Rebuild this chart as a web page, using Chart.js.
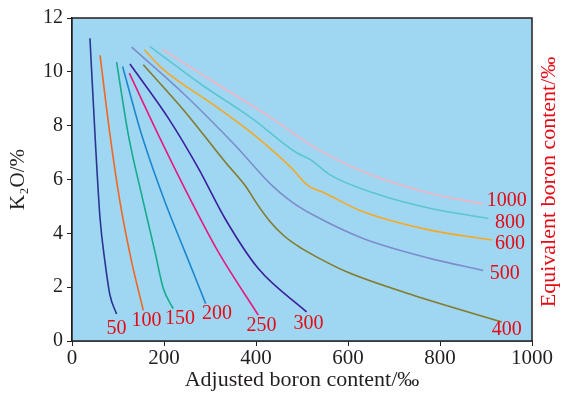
<!DOCTYPE html>
<html>
<head>
<meta charset="utf-8">
<style>
  html, body { margin: 0; padding: 0; background: #fff; }
  #wrap { width: 561px; height: 393px; }
</style>
</head>
<body>
<div id="wrap"><canvas id="chart"></canvas></div>
<script src="https://cdn.jsdelivr.net/npm/chart.js"></script>
<script>
// curves of equal equivalent boron content, [adjusted boron ‰, K2O %]
const line50 = [[39, 11.25], [50, 7.66], [61, 4.55], [71.7, 2.94], [82.6, 1.7], [97, 1.0]];
const line100 = [[61, 10.61], [82.6, 7.66], [104.3, 5.17], [129.7, 2.94], [155, 1.14]];
const line150 = [[97, 10.36], [122.5, 7.66], [155, 5.17], [180.4, 3.31], [198.5, 1.95], [220, 1.2]];
const line200 = [[110, 10.2], [151.4, 7.66], [202, 5.17], [245.6, 3.31], [290.6, 1.39]];
const line250 = [[124.6, 9.95], [187.7, 7.66], [260, 5.17], [318, 3.31], [405, 0.96]];
const line300 = [[126, 10.29], [209.4, 8.28], [274.6, 6.42], [332.6, 4.55], [405, 2.69], [510, 1.08]];
const line400 = [[155, 10.26], [245.6, 8.52], [332.6, 6.66], [378, 5.74], [400, 5.15], [430, 4.45], [460, 3.92], [499, 3.44], [524.6, 3.19], [597, 2.57], [742, 1.7], [934, 0.71]];
const line500 = [[129.7, 10.92], [245.6, 9.14], [354, 7.28], [434, 5.79], [477.6, 5.17], [524.6, 4.68], [633, 3.81], [778, 3.07], [894, 2.62]];
const line600 = [[157, 10.82], [195, 10.14], [318, 8.65], [405, 7.53], [477.6, 6.42], [512, 5.79], [550, 5.49], [633, 4.8], [778, 4.12], [914, 3.75]];
const line800 = [[169.6, 10.94], [282, 9.52], [390.6, 8.28], [484.8, 7.03], [520, 6.72], [561, 6.17], [669.6, 5.42], [778, 4.93], [905, 4.55]];
const line1000 = [[196, 10.84], [318, 9.52], [434, 8.28], [524.6, 7.22], [633, 6.29], [778, 5.49], [894, 5.09]];

const curveNames = ['50', '100', '150', '200', '250', '300', '400', '500', '600', '800', '1000'];
const curves = [line50, line100, line150, line200, line250, line300, line400, line500, line600, line800, line1000];
const xTicks = [0, 200, 400, 600, 800, 1000];
const yTicks = [0, 2, 4, 6, 8, 10, 12];

const colors = ['#2b3590', '#f26522', '#16ab8c', '#1b87cf', '#e5197f', '#3a1f9c',
                '#85792c', '#7d8ccc', '#f7a823', '#5cc6cf', '#f1b3c1'];
// where each curve label sits (data units)
const labelPos = [[97, 0.47], [162, 0.77], [235, 0.83], [315, 1.02], [412, 0.58], [514, 0.65],
                  [945, 0.4], [941, 2.51], [952, 3.6], [952, 4.39], [945, 5.21]];

const ink = '#231f20';
const red = '#e50914';
const serif = "'Liberation Serif', 'Times New Roman', serif";

const decor = {
  id: 'decor',
  beforeDatasetsDraw(chart) {
    const { ctx, chartArea: a } = chart;
    ctx.save();
    ctx.fillStyle = '#9fd7f3';
    ctx.fillRect(a.left, a.top, a.right - a.left, a.bottom - a.top);
    ctx.restore();
  },
  afterDraw(chart) {
    const { ctx, chartArea: a, scales } = chart;
    ctx.save();
    ctx.strokeStyle = ink;
    ctx.lineWidth = 1.5;
    ctx.strokeRect(a.left, a.top, a.right - a.left, a.bottom - a.top);
    ctx.fillStyle = red;
    ctx.font = '20px ' + serif;
    ctx.textAlign = 'center';
    ctx.textBaseline = 'middle';
    curveNames.forEach((t, i) => {
      ctx.fillText(t, scales.x.getPixelForValue(labelPos[i][0]), scales.y.getPixelForValue(labelPos[i][1]));
    });
    ctx.font = '22px ' + serif;
    ctx.translate(549, 182);
    ctx.rotate(-Math.PI / 2);
    ctx.fillText('Equivalent boron content/‰', 0, 0);
    ctx.restore();
  }
};

new Chart(document.getElementById('chart'), {
  type: 'line',
  data: {
    datasets: curves.map((c, i) => ({
      label: curveNames[i],
      data: c.map(p => ({ x: p[0], y: p[1] })),
      borderColor: colors[i],
      borderWidth: 1.6,
      pointRadius: 0,
      cubicInterpolationMode: 'monotone',
      fill: false
    }))
  },
  options: {
    responsive: true,
    maintainAspectRatio: false,
    animation: false,
    layout: { padding: { top: 18, right: 29, left: 0, bottom: 0 } },
    plugins: { legend: { display: false }, tooltip: { enabled: false } },
    scales: {
      x: {
        type: 'linear', min: 0, max: 1000,
        afterBuildTicks: s => { s.ticks = xTicks.map(v => ({ value: v })); },
        afterFit: s => { s.height = 52; },
        grid: { drawOnChartArea: false, drawTicks: true, tickLength: 5, tickColor: ink },
        border: { display: true, color: ink, width: 1.5 },
        ticks: { color: ink, font: { family: serif, size: 21 }, padding: 0, maxRotation: 0,
                 callback: v => String(v) },
        title: { display: true, text: 'Adjusted boron content/‰', color: ink,
                 font: { family: serif, size: 22 }, padding: { top: 0, bottom: 0 } }
      },
      y: {
        type: 'linear', min: 0, max: 12,
        afterBuildTicks: s => { s.ticks = yTicks.map(v => ({ value: v })); },
        afterFit: s => { s.width = 72; },
        grid: { drawOnChartArea: false, drawTicks: true, tickLength: 5, tickColor: ink },
        border: { display: true, color: ink, width: 1.5 },
        ticks: { color: ink, font: { family: serif, size: 20 }, padding: 4,
                 callback: v => String(v) },
        title: { display: true, text: 'K₂O/%', color: ink,
                 font: { family: serif, size: 21 }, padding: { top: 6, bottom: 0 } }
      }
    }
  },
  plugins: [decor]
});
</script>
</body>
</html>
